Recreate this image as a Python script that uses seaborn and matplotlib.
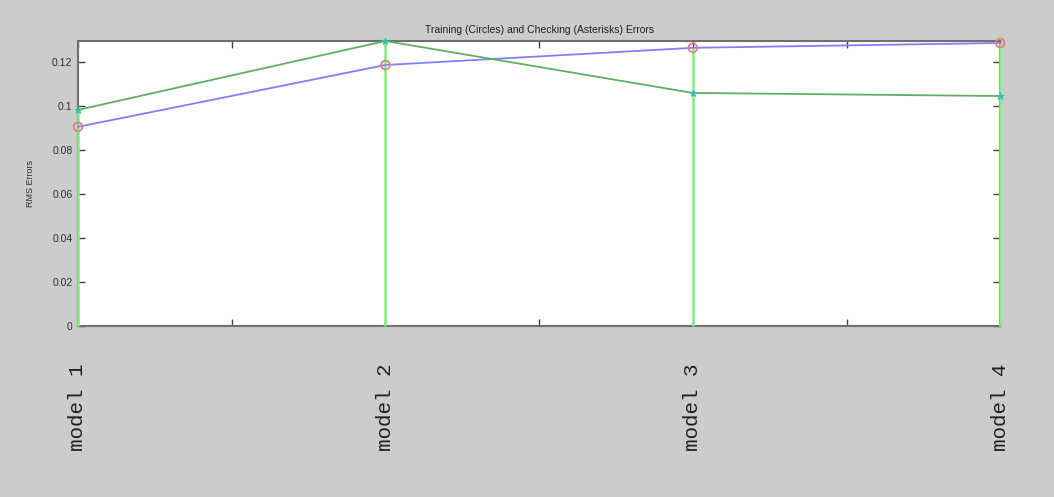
import matplotlib
matplotlib.use("Agg")
import matplotlib.pyplot as plt
import seaborn as sns
import pandas as pd
import numpy as np
from matplotlib.ticker import FuncFormatter

models = ["model 1", "model 2", "model 3", "model 4"]
training = [0.0905, 0.1186, 0.1264, 0.1286]
checking = [0.0982, 0.1295, 0.1059, 0.1045]

sns.set_style("white")
plt.rcParams['font.family'] = ['Liberation Sans', 'DejaVu Sans']

df = pd.DataFrame({"x": np.arange(1, len(models) + 1), "training": training, "checking": checking})

fig = plt.figure(figsize=(10.54, 4.97), dpi=100, facecolor="#cccccc")
ax = fig.add_axes([0.074, 0.344, 0.875, 0.5735])
ax.set_facecolor("white")

for s in ax.spines.values():
    s.set_color("#707070")
    s.set_linewidth(1.5)
    s.set_zorder(1)

# stems
stem_top = np.maximum(df["training"], df["checking"])
ax.vlines(df["x"], 0, stem_top, colors="#80f080", linewidth=1.8, zorder=5, clip_on=False)

sns.lineplot(data=df, x="x", y="training", ax=ax, color="#8080ff", linewidth=1.3, zorder=6,
             clip_on=False)
sns.lineplot(data=df, x="x", y="checking", ax=ax, color="#60b060", linewidth=1.3, zorder=6,
             clip_on=False)
sns.scatterplot(data=df, x="x", y="training", ax=ax, marker="o", s=40, facecolor="none",
                edgecolor="#e08080", linewidth=1.3, zorder=7, clip_on=False)
sns.scatterplot(data=df, x="x", y="checking", ax=ax, marker="*", s=30, color="#30c0b0",
                edgecolor="#30c0b0", linewidth=0.5, zorder=7, clip_on=False)

ax.set_xlim(1, 4)
ax.set_ylim(0, 0.1295)
xt = [1, 1.5, 2, 2.5, 3, 3.5, 4]
ax.set_xticks(xt)
labels = []
for t in xt:
    labels.append(models[int(t) - 1] if float(t).is_integer() else "")
ax.set_xticklabels(labels, rotation=90, family="Liberation Mono", fontsize=15,
                   va="top", ha="center")
ax.set_yticks([0, 0.02, 0.04, 0.06, 0.08, 0.1, 0.12])
ax.yaxis.set_major_formatter(FuncFormatter(lambda v, p: ("%g" % round(v, 4))))
ax.tick_params(axis="x", direction="in", length=5, width=1, color="#404040",
               top=True, bottom=True, pad=27)
ax.tick_params(axis="y", direction="in", length=5, width=1, color="#404040",
               left=True, right=True, labelsize=7.5, labelcolor="#303030", pad=4)
for lab in ax.get_xticklabels():
    lab.set_color("#202020")

ax.set_xlabel("")
ax.set_ylabel("RMS Errors", fontsize=6.5, color="#303030", labelpad=12)
ax.set_title("Training (Circles) and Checking (Asterisks) Errors", fontsize=7.5,
             color="#202020", pad=6)

fig.savefig("out.png", dpi=100, facecolor=fig.get_facecolor())
